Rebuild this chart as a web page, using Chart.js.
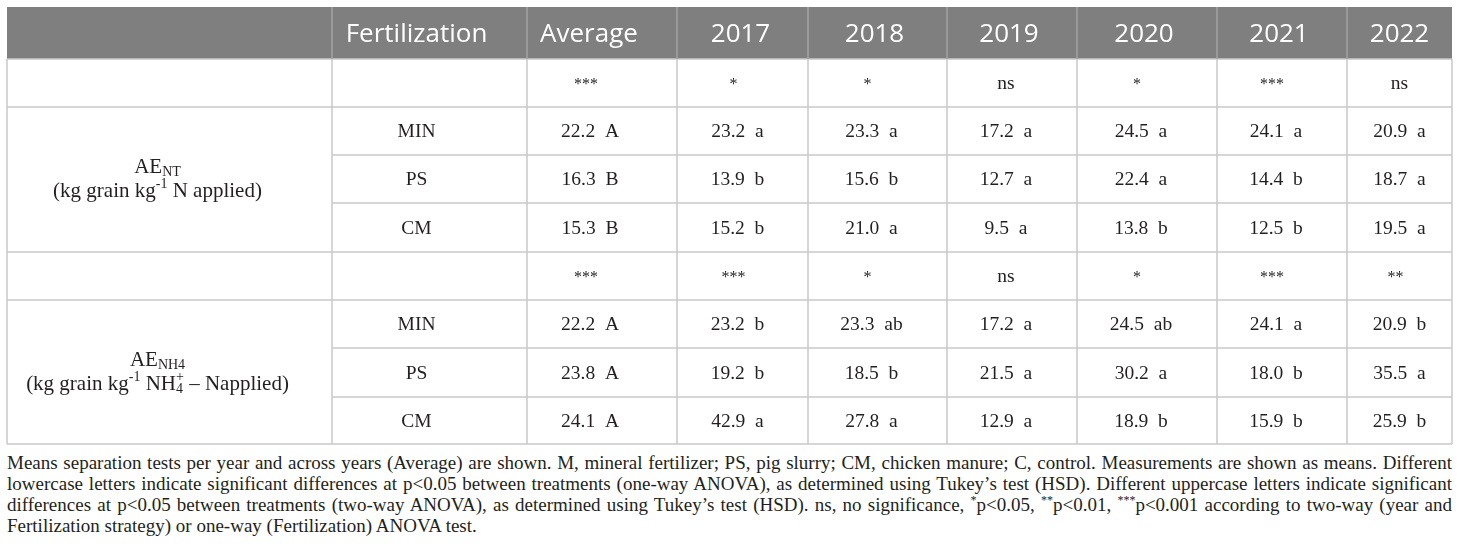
<!DOCTYPE html>
<html>
<head>
<meta charset="utf-8">
<script src="https://cdn.jsdelivr.net/npm/chart.js@4.4.1/dist/chart.umd.min.js"></script>
<style>
  html, body { margin: 0; padding: 0; background: #fff; }
  #wrap { position: relative; width: 1460px; height: 557px; overflow: hidden; }
  #table { position: absolute; left: 0; top: 0; }
  #note {
    position: absolute; left: 7px; top: 452px; width: 1445px;
    font-family: 'Liberation Serif', 'Times New Roman', serif;
    font-size: 19px; line-height: 21px; color: #231f20;
  }
  #note div { text-align: justify; text-align-last: justify; }
  #note div.last { text-align-last: left; }
  #note sup { font-size: 12px; line-height: 0; }
</style>
</head>
<body>
<div id="wrap">
  <canvas id="table" width="1460" height="450"></canvas>
  <div id="note">
    <div>Means separation tests per year and across years (Average) are shown. M, mineral fertilizer; PS, pig slurry; CM, chicken manure; C, control. Measurements are shown as means. Different</div>
    <div>lowercase letters indicate significant differences at p&lt;0.05 between treatments (one-way ANOVA), as determined using Tukey’s test (HSD). Different uppercase letters indicate significant</div>
    <div>differences at p&lt;0.05 between treatments (two-way ANOVA), as determined using Tukey’s test (HSD). ns, no significance, <sup>*</sup>p&lt;0.05, <sup>**</sup>p&lt;0.01, <sup>***</sup>p&lt;0.001 according to two-way (year and</div>
    <div class="last">Fertilization strategy) or one-way (Fertilization) ANOVA test.</div>
  </div>
</div>
<script>
// 表格資料
const headers = ['', 'Fertilization', 'Average', '2017', '2018', '2019', '2020', '2021', '2022'];
const treatments = ['MIN', 'PS', 'CM'];

// AE_NT
const sigNT = ['***', '*', '*', 'ns', '*', '***', 'ns'];
const ntMIN = [22.2, 23.2, 23.3, 17.2, 24.5, 24.1, 20.9];
const ntMINLetters = ['A', 'a', 'a', 'a', 'a', 'a', 'a'];
const ntPS = [16.3, 13.9, 15.6, 12.7, 22.4, 14.4, 18.7];
const ntPSLetters = ['B', 'b', 'b', 'a', 'a', 'b', 'a'];
const ntCM = [15.3, 15.2, 21.0, 9.5, 13.8, 12.5, 19.5];
const ntCMLetters = ['B', 'b', 'a', 'a', 'b', 'b', 'a'];

// AE_NH4
const sigNH4 = ['***', '***', '*', 'ns', '*', '***', '**'];
const nh4MIN = [22.2, 23.2, 23.3, 17.2, 24.5, 24.1, 20.9];
const nh4MINLetters = ['A', 'b', 'ab', 'a', 'ab', 'a', 'b'];
const nh4PS = [23.8, 19.2, 18.5, 21.5, 30.2, 18.0, 35.5];
const nh4PSLetters = ['A', 'b', 'b', 'a', 'a', 'b', 'a'];
const nh4CM = [24.1, 42.9, 27.8, 12.9, 18.9, 15.9, 25.9];
const nh4CMLetters = ['A', 'a', 'a', 'a', 'b', 'b', 'b'];

// 列標籤 (含上下標)
const labelNT = [
    [{ t: 'AE' }, { t: 'NT', sub: true }],
    [{ t: '(kg grain kg' }, { t: '-1', sup: true }, { t: ' N applied)' }]
];
const labelNH4 = [
    [{ t: 'AE' }, { t: 'NH4', sub: true }],
    [{ t: '(kg grain kg' }, { t: '-1', sup: true }, { t: ' NH' }, { sub: '4', sup: '+' }, { t: ' – Napplied)' }]
];

// 版面設定
const colWidths = [325, 195, 150, 131, 139, 130, 140, 130, 105];
const rowHeights = [52, 48, 48, 48, 49, 48, 48, 49, 47];
const colShift = [-12, -13, -12, -5, -6, -6, -6, -6, 0];
const headShift = [0, -13, -13, -2, -3, -3, -3, -3, 0];

const sum = arr => arr.reduce((a, b) => a + b, 0);
const colEdges = colWidths.map((w, i) => sum(colWidths.slice(0, i)));
colEdges.push(sum(colWidths));
const rowEdges = rowHeights.map((h, i) => sum(rowHeights.slice(0, i)));
rowEdges.push(sum(rowHeights));
const colCenter = c => colEdges[c] + colWidths[c] / 2;
const rowCenter = r => rowEdges[r] + rowHeights[r] / 2;
const spanCenter = (r0, r1) => (rowEdges[r0] + rowEdges[r1 + 1]) / 2;

// 建立資料點
const headerPts = [];
for (let c = 1; c < headers.length; c++) {
    headerPts.push({ x: colCenter(c), y: rowCenter(0), text: headers[c], shift: headShift[c] });
}

const sigPts = [];
const valuePts = [];
const treatPts = [];
const labelPts = [];

function addBlock(startRow, sig, series, letters, label) {
    sig.forEach((s, i) => {
        sigPts.push({ x: colCenter(i + 2), y: rowCenter(startRow), text: s, shift: colShift[i + 2] });
    });
    series.forEach((vals, k) => {
        const r = startRow + 1 + k;
        treatPts.push({ x: colCenter(1), y: rowCenter(r), text: treatments[k], shift: colShift[1] });
        vals.forEach((v, i) => {
            valuePts.push({
                x: colCenter(i + 2), y: rowCenter(r),
                text: v.toFixed(1) + '  ' + letters[k][i], shift: colShift[i + 2]
            });
        });
    });
    labelPts.push({ x: colCenter(0), y: spanCenter(startRow + 1, startRow + 3), rich: label, shift: colShift[0] });
}

addBlock(1, sigNT, [ntMIN, ntPS, ntCM], [ntMINLetters, ntPSLetters, ntCMLetters], labelNT);
addBlock(5, sigNH4, [nh4MIN, nh4PS, nh4CM], [nh4MINLetters, nh4PSLetters, nh4CMLetters], labelNH4);

const SERIF = "'Liberation Serif', 'Times New Roman', serif";
const INK = '#231f20';

// 表格格線與表頭背景
const gridPlugin = {
    id: 'tableGrid',
    beforeDatasetsDraw(chart) {
        const { ctx, scales: { x, y } } = chart;
        const px = v => x.getPixelForValue(v);
        const py = v => y.getPixelForValue(v);
        ctx.save();
        // 表頭背景
        ctx.fillStyle = '#7f7f7f';
        ctx.fillRect(px(0), py(0), px(colEdges[9]) - px(0), py(rowEdges[1]) - py(0));

        ctx.lineWidth = 1.5;
        // 水平線
        rowEdges.forEach((e, k) => {
            if (k === 0) return;
            const inner = [3, 4, 7, 8].includes(k);
            ctx.strokeStyle = '#c8c8c8';
            ctx.beginPath();
            ctx.moveTo(px(inner ? colEdges[1] : colEdges[0]), py(e));
            ctx.lineTo(px(colEdges[9]), py(e));
            ctx.stroke();
        });
        // 垂直線
        colEdges.forEach((e, k) => {
            if (k > 0 && k < 9) {
                ctx.strokeStyle = '#a3a3a3';
                ctx.beginPath();
                ctx.moveTo(px(e), py(0));
                ctx.lineTo(px(e), py(rowEdges[1]));
                ctx.stroke();
            }
            ctx.strokeStyle = '#c8c8c8';
            ctx.beginPath();
            ctx.moveTo(px(e), py(rowEdges[1]));
            ctx.lineTo(px(e), py(rowEdges[9]));
            ctx.stroke();
        });
        ctx.restore();
    },
    afterDatasetsDraw(chart) {
        const { ctx } = chart;
        ctx.save();
        ctx.textBaseline = 'middle';
        chart.data.datasets.forEach((ds, di) => {
            const meta = chart.getDatasetMeta(di);
            meta.data.forEach((pt, i) => {
                const raw = ds.data[i];
                const cx = pt.x + (raw.shift || 0);
                if (ds.kind === 'label') {
                    drawRich(ctx, raw.rich, cx, pt.y);
                    return;
                }
                ctx.textAlign = 'center';
                ctx.fillStyle = ds.color;
                if (ds.kind === 'sig' && raw.text !== 'ns') {
                    ctx.font = '16px ' + SERIF;
                    ctx.fillText(raw.text, cx - 4, pt.y + 2);
                } else {
                    ctx.font = ds.font;
                    ctx.fillText(raw.text, cx, pt.y + (ds.dy || 0));
                }
            });
        });
        ctx.restore();
    }
};

// 繪製含上下標的列標籤
function drawRich(ctx, lines, cx, cy) {
    const main = '21px ' + SERIF;
    const small = '14px ' + SERIF;
    const gap = 24;
    ctx.fillStyle = INK;
    ctx.textAlign = 'left';
    lines.forEach((segs, li) => {
        const ly = cy + (li - (lines.length - 1) / 2) * gap;
        const widthOf = s => {
            if (s.t !== undefined) {
                ctx.font = (s.sub || s.sup) ? small : main;
                return ctx.measureText(s.t).width;
            }
            ctx.font = small;
            return Math.max(ctx.measureText(s.sub).width, ctx.measureText(s.sup).width);
        };
        const total = segs.reduce((a, s) => a + widthOf(s), 0);
        let xx = cx - total / 2;
        segs.forEach(s => {
            const w = widthOf(s);
            if (s.t !== undefined) {
                ctx.font = (s.sub || s.sup) ? small : main;
                const dy = s.sub ? 5 : s.sup ? -7 : 0;
                ctx.fillText(s.t, xx, ly + dy);
            } else {
                ctx.font = small;
                ctx.fillText(s.sub, xx, ly + 5);
                ctx.fillText(s.sup, xx, ly - 7);
            }
            xx += w;
        });
    });
}

new Chart(document.getElementById('table'), {
    type: 'scatter',
    data: {
        datasets: [
            { kind: 'header', data: headerPts, color: '#ffffff', font: "26px 'Open Sans', 'Noto Sans', sans-serif", dy: 2 },
            { kind: 'sig', data: sigPts, color: INK, font: '19.5px ' + SERIF, dy: 1 },
            { kind: 'treat', data: treatPts, color: INK, font: '19.5px ' + SERIF, dy: 1 },
            { kind: 'value', data: valuePts, color: INK, font: '19.5px ' + SERIF, dy: 1 },
            { kind: 'label', data: labelPts }
        ]
    },
    options: {
        responsive: false,
        animation: false,
        events: [],
        elements: { point: { radius: 0, hoverRadius: 0 } },
        layout: { padding: { left: 7, right: 8, top: 7, bottom: 6 } },
        scales: {
            x: { type: 'linear', display: false, min: 0, max: colEdges[9] },
            y: { type: 'linear', display: false, min: 0, max: rowEdges[9], reverse: true }
        },
        plugins: {
            legend: { display: false },
            tooltip: { enabled: false }
        }
    },
    plugins: [gridPlugin]
});
</script>
</body>
</html>
